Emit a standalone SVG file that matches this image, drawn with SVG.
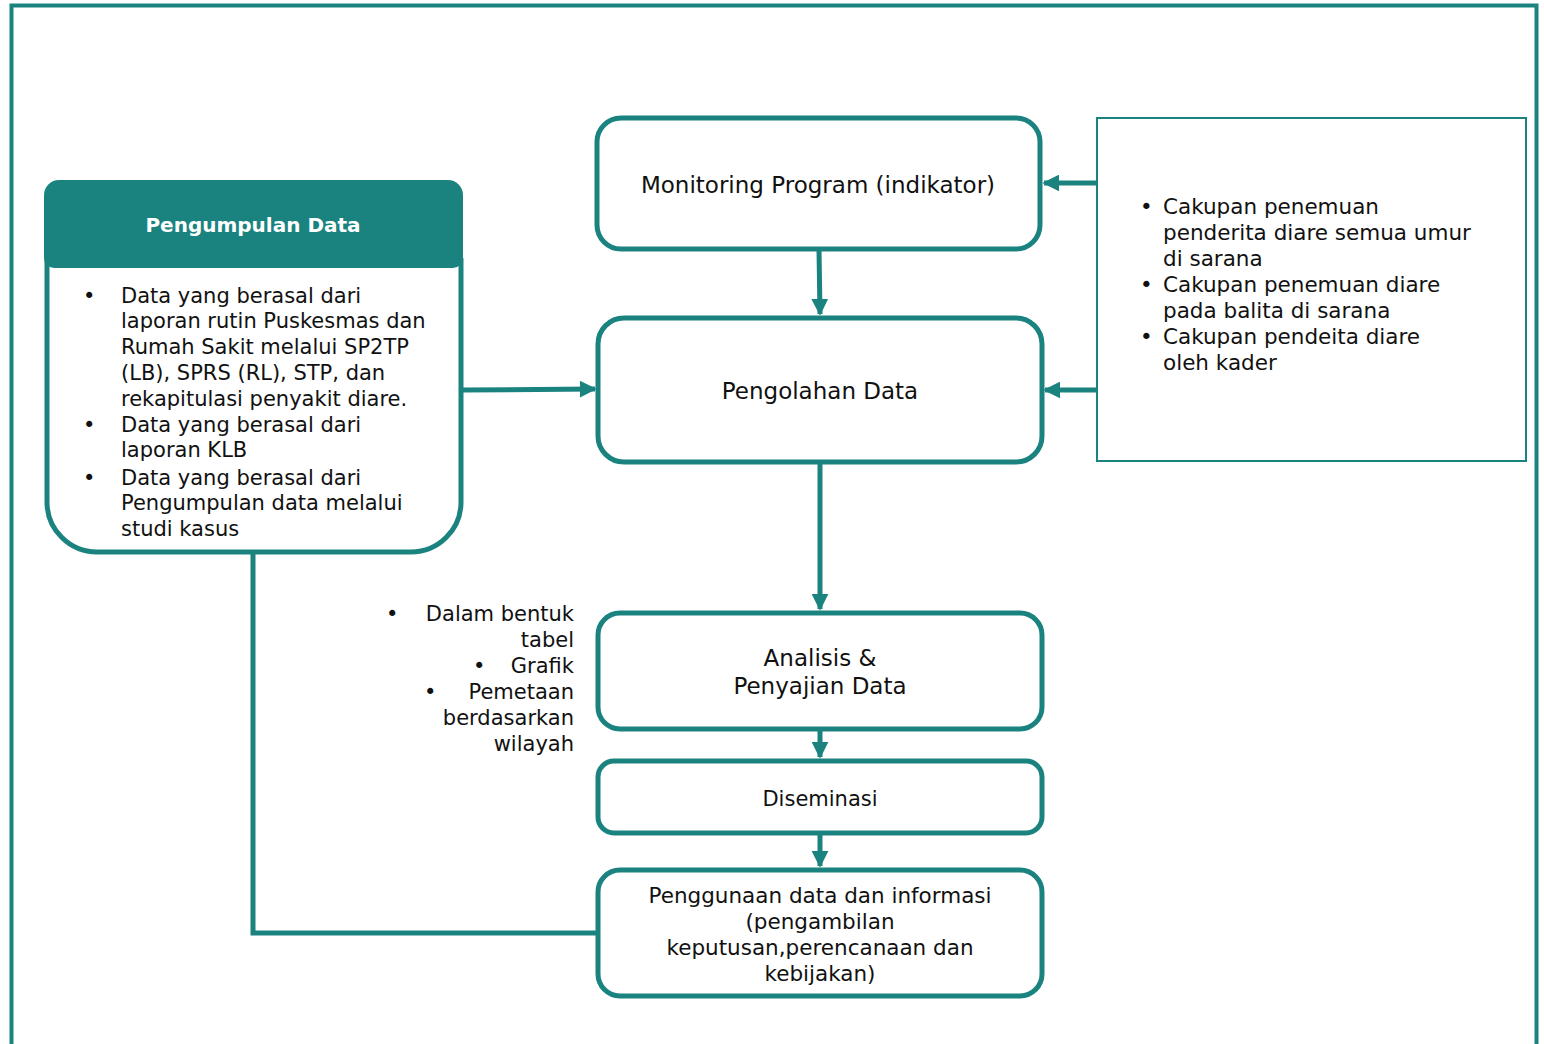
<svg xmlns="http://www.w3.org/2000/svg" width="1544" height="1044" viewBox="0 0 1544 1044">
<defs>
<style>
.box{fill:#fff;stroke:#1b837f;stroke-width:5}
.thin{fill:#fff;stroke:#1b837f;stroke-width:2}
.t{font-family:"DejaVu Sans",sans-serif;font-size:21px;fill:#111}
.b{font-size:23px}
.s{font-size:21.5px}
.c{text-anchor:middle}
.r{text-anchor:end}
.hd{font-family:"DejaVu Sans",sans-serif;font-size:20px;font-weight:bold;fill:#fff;text-anchor:middle}
.ln{fill:none;stroke:#1b837f;stroke-width:5}
</style>
<marker id="ah" viewBox="0 0 10 10" refX="9" refY="5" markerWidth="3.4" markerHeight="3.4" orient="auto" markerUnits="strokeWidth">
<path d="M0,0 L10,5 L0,10 z" fill="#1b837f"/>
</marker>
</defs>
<rect width="1544" height="1044" fill="#fff"/>
<path d="M11.5,1050 V5.5 H1536.5 V1050" fill="none" stroke="#1b837f" stroke-width="4"/>

<g id="connectors">
<path class="ln" d="M819,249 L820,314" marker-end="url(#ah)"/>
<path class="ln" d="M1097,183 H1044" marker-end="url(#ah)"/>
<path class="ln" d="M1097,390 H1045" marker-end="url(#ah)"/>
<path class="ln" d="M462,390 L595,389" marker-end="url(#ah)"/>
<path class="ln" d="M820,462 V609" marker-end="url(#ah)"/>
<path class="ln" d="M820,729 V757" marker-end="url(#ah)"/>
<path class="ln" d="M820,833 V866" marker-end="url(#ah)"/>
<path class="ln" d="M253,552 V933 H598" stroke-width="6"/>
</g>

<g id="pengumpulan">
<path class="box" d="M47,258 V502 A50,50 0 0 0 97,552 H411 A50,50 0 0 0 461,502 V258"/>
<path d="M44,195 A15,15 0 0 1 59,180 H448 A15,15 0 0 1 463,195 V258 A10,10 0 0 1 453,268 H54 A10,10 0 0 1 44,258 Z" fill="#1b837f"/>
<text class="hd" x="253" y="232">Pengumpulan Data</text>
<g class="t">
<text x="83" y="303">•</text>
<text x="121" y="303">Data yang berasal dari</text>
<text x="121" y="328">laporan rutin Puskesmas dan</text>
<text x="121" y="354">Rumah Sakit melalui SP2TP</text>
<text x="121" y="380">(LB), SPRS (RL), STP, dan</text>
<text x="121" y="406">rekapitulasi penyakit diare.</text>
<text x="83" y="432">•</text>
<text x="121" y="432">Data yang berasal dari</text>
<text x="121" y="457">laporan KLB</text>
<text x="83" y="485">•</text>
<text x="121" y="485">Data yang berasal dari</text>
<text x="121" y="510">Pengumpulan data melalui</text>
<text x="121" y="536">studi kasus</text>
</g>
</g>

<g id="monitoring">
<rect class="box" x="597" y="118" width="443" height="131" rx="24"/>
<text class="t b c" x="818" y="193">Monitoring Program (indikator)</text>
</g>

<g id="pengolahan">
<rect class="box" x="598" y="318" width="444" height="144" rx="26"/>
<text class="t b c" x="820" y="399">Pengolahan Data</text>
</g>

<g id="indikator">
<rect class="thin" x="1097" y="118" width="429" height="343"/>
<g class="t s">
<text x="1140" y="214">•</text>
<text x="1163" y="214">Cakupan penemuan</text>
<text x="1163" y="240">penderita diare semua umur</text>
<text x="1163" y="266">di sarana</text>
<text x="1140" y="292">•</text>
<text x="1163" y="292">Cakupan penemuan diare</text>
<text x="1163" y="318">pada balita di sarana</text>
<text x="1140" y="344">•</text>
<text x="1163" y="344">Cakupan pendeita diare</text>
<text x="1163" y="370">oleh kader</text>
</g>
</g>

<g id="penyajian-bentuk">
<g class="t">
<text x="386" y="621">•</text>
<text class="r" x="574" y="621">Dalam bentuk</text>
<text class="r" x="574" y="647">tabel</text>
<text x="473" y="673">•</text>
<text class="r" x="574" y="673">Grafik</text>
<text x="424" y="699">•</text>
<text class="r" x="574" y="699">Pemetaan</text>
<text class="r" x="574" y="725">berdasarkan</text>
<text class="r" x="574" y="751">wilayah</text>
</g>
</g>

<g id="analisis">
<rect class="box" x="598" y="613" width="444" height="116" rx="22"/>
<text class="t b c" x="820" y="666">Analisis &amp;</text>
<text class="t b c" x="820" y="694">Penyajian Data</text>
</g>

<g id="diseminasi">
<rect class="box" x="598" y="761" width="444" height="72" rx="16"/>
<text class="t c" x="820" y="806" font-size="22">Diseminasi</text>
</g>

<g id="penggunaan">
<rect class="box" x="598" y="870" width="444" height="126" rx="22"/>
<g class="t s c">
<text x="820" y="903">Penggunaan data dan informasi</text>
<text x="820" y="929">(pengambilan</text>
<text x="820" y="955">keputusan,perencanaan dan</text>
<text x="820" y="981">kebijakan)</text>
</g>
</g>
</svg>
